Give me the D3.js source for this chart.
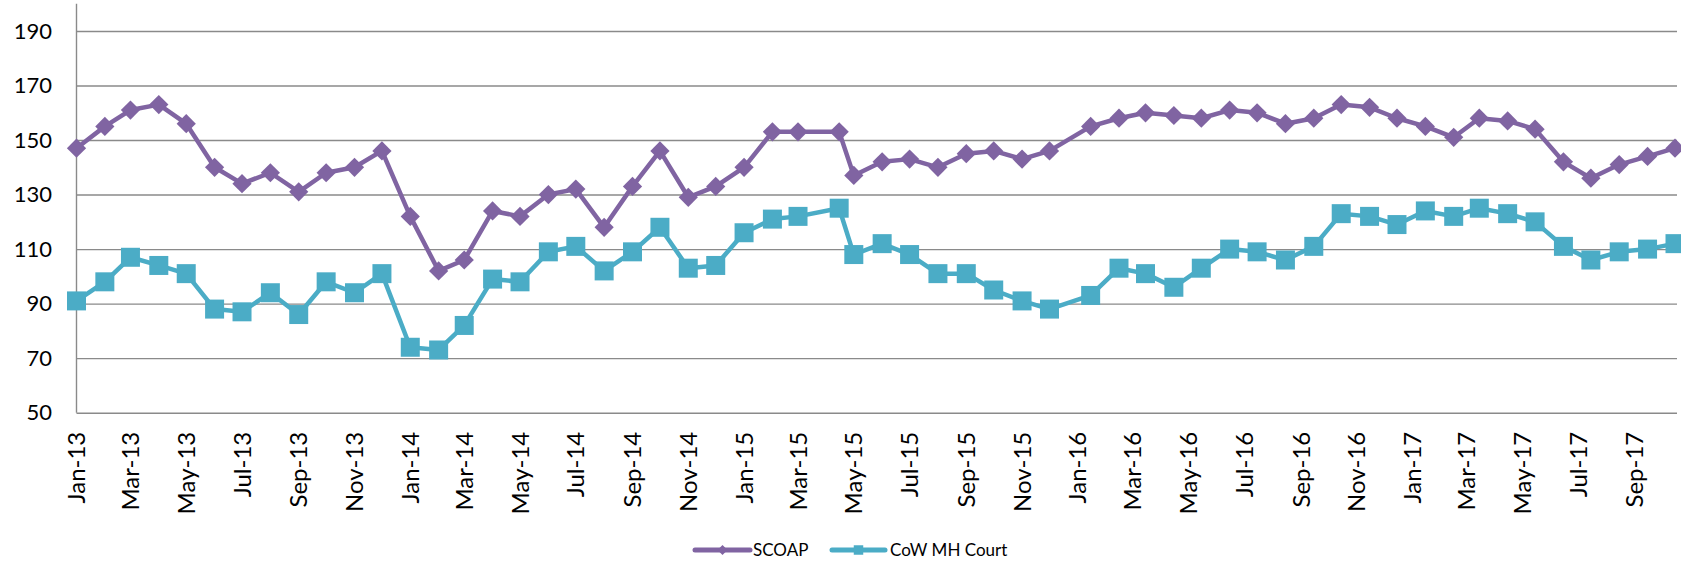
<!DOCTYPE html>
<html>
<head>
<meta charset="utf-8">
<script src="https://cdn.jsdelivr.net/npm/d3@7"></script>
<style>
  html, body { margin: 0; padding: 0; background: #fff; }
  svg { display: block; font-family: Lato, "Open Sans", sans-serif; }
</style>
</head>
<body>
<svg id="chart" width="1681" height="561"></svg>
<script>
// ---- data ----
const dates = [
  "2013-01-01","2013-02-01","2013-03-01","2013-04-01","2013-05-01","2013-06-01",
  "2013-07-01","2013-08-01","2013-09-01","2013-10-01","2013-11-01","2013-12-01",
  "2014-01-01","2014-02-01","2014-03-01","2014-04-01","2014-05-01","2014-06-01",
  "2014-07-01","2014-08-01","2014-09-01","2014-10-01","2014-11-01","2014-12-01",
  "2015-01-01","2015-02-01","2015-03-01","2015-04-15","2015-05-01","2015-06-01",
  "2015-07-01","2015-08-01","2015-09-01","2015-10-01","2015-11-01","2015-12-01",
  "2016-01-15","2016-02-15","2016-03-15","2016-04-15","2016-05-15","2016-06-15",
  "2016-07-15","2016-08-15","2016-09-15","2016-10-15","2016-11-15","2016-12-15",
  "2017-01-15","2017-02-15","2017-03-15","2017-04-15","2017-05-15","2017-06-15",
  "2017-07-15","2017-08-15","2017-09-15","2017-10-15"
];
const scoap = [
  147,155,161,163,156,140,134,138,131,138,140,146,
  122,102,106,124,122,130,132,118,133,146,129,133,
  140,153,153,153,137,142,143,140,145,146,143,146,
  155,158,160,159,158,161,160,156,158,163,162,158,
  155,151,158,157,154,142,136,141,144,147
];
const cow = [
  91,98,107,104,101,88,87,94,86,98,94,101,
  74,73,82,99,98,109,111,102,109,118,103,104,
  116,121,122,125,108,112,108,101,101,95,91,88,
  93,103,101,96,103,110,109,106,111,123,122,119,
  124,122,125,123,120,111,106,109,110,112
];
const seriesNames = ["SCOAP", "CoW MH Court"];
const xTickLabels = [
  "Jan-13","Mar-13","May-13","Jul-13","Sep-13","Nov-13",
  "Jan-14","Mar-14","May-14","Jul-14","Sep-14","Nov-14",
  "Jan-15","Mar-15","May-15","Jul-15","Sep-15","Nov-15",
  "Jan-16","Mar-16","May-16","Jul-16","Sep-16","Nov-16",
  "Jan-17","Mar-17","May-17","Jul-17","Sep-17"
];
const yTicks = [50, 70, 90, 110, 130, 150, 170, 190];
const yMin = 50, yMax = 200;

(function () {
// ---- setup ----
const parseDate = d3.timeParse("%Y-%m-%d");
const parseTick = d3.timeParse("%b-%y");
const pts = dates.map(parseDate);

const colors = ["#8064A2", "#4BACC6"];
const pLeft = 76.5, pRight = 1675, gridRight = 1677, pTop = 3.7, pBottom = 412.7;

const svg = d3.select("#chart");

const x = d3.scaleTime()
  .domain([pts[0], pts[pts.length - 1]])
  .range([pLeft, pRight]);
const y = d3.scaleLinear().domain([yMin, yMax]).range([pBottom, pTop]);

// gridlines + y labels
const yAxis = d3.axisLeft(y)
  .tickValues(yTicks)
  .tickSize(-(gridRight - pLeft))
  .tickPadding(24.5)
  .tickFormat(d3.format("d"));
const gy = svg.append("g")
  .attr("transform", `translate(${pLeft},0)`)
  .call(yAxis);
gy.select(".domain").remove();
gy.selectAll(".tick line").attr("stroke", "#8a8a8a").attr("stroke-width", 1.4);
gy.selectAll(".tick text")
  .attr("fill", "#000")
  .style("font-size", "22px")
  .style("font-family", "Lato, sans-serif");

// y axis line
svg.append("line")
  .attr("x1", pLeft).attr("x2", pLeft)
  .attr("y1", y(yMax)).attr("y2", y(yMin))
  .attr("stroke", "#8a8a8a").attr("stroke-width", 1.4);

// x tick labels
const fmt = d3.timeFormat("%b-%y");
svg.append("g").selectAll("text")
  .data(xTickLabels.map(parseTick))
  .join("text")
  .attr("transform", d => `translate(${x(d)},${pBottom + 19}) rotate(-90)`)
  .attr("dy", "0.36em")
  .attr("text-anchor", "end")
  .attr("fill", "#000")
  .style("font-size", "24px")
  .text(d => fmt(d));

// series
const series = [scoap, cow];
const line = d3.line()
  .x((d, i) => x(pts[i]))
  .y(d => y(d));

const diamond = d3.symbol().type(d3.symbolSquare).size(185);
const square = d3.symbol().type(d3.symbolSquare).size(361);

series.forEach((vals, si) => {
  svg.append("path")
    .datum(vals)
    .attr("fill", "none")
    .attr("stroke", colors[si])
    .attr("stroke-width", 4.5)
    .attr("stroke-linejoin", "round")
    .attr("d", line);
  svg.append("g").selectAll("path")
    .data(vals)
    .join("path")
    .attr("d", si === 0 ? diamond : square)
    .attr("fill", colors[si])
    .attr("transform", (d, i) => `translate(${x(pts[i])},${y(d)})` + (si === 0 ? " rotate(45)" : ""));
});

// legend
const legendY = 550;
const legendItems = [
  { x0: 695, x1: 750, tx: 753 },
  { x0: 832, x1: 885, tx: 890 }
];
const legDiamond = d3.symbol().type(d3.symbolSquare).size(50);
const legSquare = d3.symbol().type(d3.symbolSquare).size(90);
legendItems.forEach((it, i) => {
  const g = svg.append("g");
  g.append("line")
    .attr("x1", it.x0).attr("x2", it.x1)
    .attr("y1", legendY).attr("y2", legendY)
    .attr("stroke", colors[i]).attr("stroke-width", 5)
    .attr("stroke-linecap", "round");
  g.append("path")
    .attr("d", i === 0 ? legDiamond : legSquare)
    .attr("fill", colors[i])
    .attr("transform", `translate(${(it.x0 + it.x1) / 2},${legendY})` + (i === 0 ? " rotate(45)" : ""));
  g.append("text")
    .attr("x", it.tx).attr("y", legendY)
    .attr("dy", "0.35em")
    .attr("fill", "#000")
    .style("font-size", "17px")
    .text(seriesNames[i]);
});
})();
</script>
</body>
</html>
